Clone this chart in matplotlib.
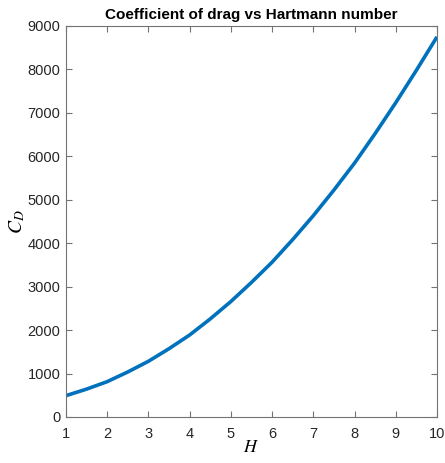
import numpy as np
import matplotlib.pyplot as plt

plt.rcParams['mathtext.fontset'] = 'stix'

H = [1, 1.5, 2, 2.5, 3, 3.5, 4, 4.5, 5, 5.5, 6, 6.5, 7, 7.5, 8, 8.5, 9, 9.5, 10]
CD = [490, 640, 812, 1035, 1280, 1570, 1885, 2255, 2655, 3095, 3560, 4080,
      4630, 5220, 5840, 6520, 7230, 7975, 8745]
xticks = list(range(1, 11))
yticks = list(range(0, 9001, 1000))

fig = plt.figure(figsize=(4.45, 4.63), dpi=100)
ax = fig.add_axes([0.148, 0.0994, 0.834, 0.845])
ax.plot(H, CD, color='#0072BD', lw=2.6, solid_capstyle='butt')
ax.set_xlim(1, 10)
ax.set_ylim(0, 9000)
ax.set_xticks(xticks)
ax.set_yticks(yticks)

tickfont = ['Liberation Sans Narrow', 'Liberation Sans', 'DejaVu Sans']
for s in ax.spines.values():
    s.set_color('0.45')
    s.set_linewidth(0.8)
ax.tick_params(direction='in', length=4, width=0.8, color='0.45',
               top=True, right=True, labelsize=10.5, labelcolor='0.15', pad=4)
ax.tick_params(axis='x', pad=7)
for lab in ax.get_xticklabels() + ax.get_yticklabels():
    lab.set_family(tickfont)

ax.set_title('Coefficient of drag vs Hartmann number', fontsize=11, fontweight='bold',
             family=tickfont, pad=5)
ax.set_xlabel('$H$', fontsize=13, labelpad=-2)
ax.set_ylabel('$C_D$', fontsize=14, labelpad=0)

fig.savefig('out.png', dpi=100)
